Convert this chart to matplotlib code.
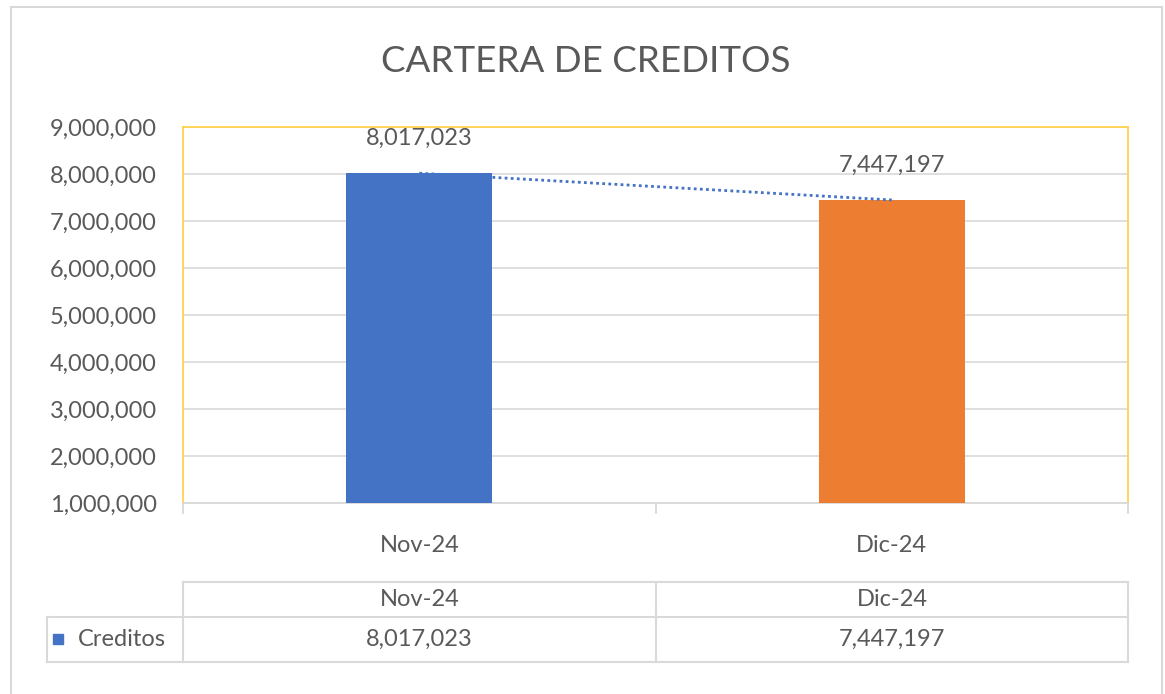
import matplotlib.pyplot as plt
from matplotlib.patches import Rectangle
from matplotlib.lines import Line2D
from matplotlib.ticker import FuncFormatter, MultipleLocator

# data
categories = ["Nov-24", "Dic-24"]
creditos = [8017023, 7447197]
series_name = "Creditos"
bar_colors = ["#4472C4", "#ED7D31"]
title = "CARTERA DE CREDITOS"

W, H = 1165, 694
txt = "#595959"
grid = "#D9D9D9"
fs = 17
plt.rcParams["font.family"] = ["Lato", "DejaVu Sans"]

fig = plt.figure(figsize=(W / 100, H / 100), dpi=100)


def fx(px):
    return px / W


def fy(py):
    return 1 - py / H


# outer chart border
fig.patches.append(Rectangle((fx(11), fy(720)), fx(1162) - fx(11), fy(7) - fy(720),
                             transform=fig.transFigure, fill=False,
                             edgecolor="#D9D9D9", lw=1.5))

ax = fig.add_axes([fx(183), fy(503), fx(1128) - fx(183), fy(127) - fy(503)])
x = list(range(len(categories)))
ax.bar(x, creditos, width=0.31, color=bar_colors, zorder=3)

# linear trendline (two points)
ax.plot(x, creditos, linestyle=(0, (1, 1.2)), color="#4472C4", lw=2.0, zorder=4)

for xi, v in zip(x, creditos):
    ax.annotate(f"{v:,}", (xi, v), xytext=(0, 25), textcoords="offset points",
                ha="center", va="center", fontsize=fs, color=txt)

ax.set_xlim(-0.5, len(categories) - 0.5)
ax.set_ylim(1000000, 9000000)
ax.yaxis.set_major_locator(MultipleLocator(1000000))
ax.yaxis.set_major_formatter(FuncFormatter(lambda v, p: f"{int(v):,}"))
ax.grid(axis="y", color=grid, lw=1.2, zorder=0)
ax.set_axisbelow(True)

for s in ["top", "left", "right"]:
    ax.spines[s].set_color("#FFD24D")
    ax.spines[s].set_linewidth(1.3)
ax.spines["bottom"].set_color(grid)
ax.spines["bottom"].set_linewidth(1.3)

ax.set_xticks(x)
ax.set_xticklabels(categories)
ax.set_xticks([i - 0.5 for i in range(len(categories) + 1)], minor=True)
ax.tick_params(axis="x", which="major", length=0, pad=23, labelsize=fs, labelcolor=txt)
ax.tick_params(axis="x", which="minor", length=8, color=grid, width=1.3)
ax.tick_params(axis="y", length=0, pad=19, labelsize=fs, labelcolor=txt)

fig.text(fx(586), fy(62), title, ha="center", va="center", fontsize=26.5, color=txt)

# data table
cols = [183, 656, 1128]
rows = [582, 617, 662]
lab_left = 47
lc = "#D9D9D9"


def hline(y, x0, x1):
    fig.add_artist(Line2D([fx(x0), fx(x1)], [fy(y), fy(y)], transform=fig.transFigure,
                          color=lc, lw=1.5))


def vline(xp, y0, y1):
    fig.add_artist(Line2D([fx(xp), fx(xp)], [fy(y0), fy(y1)], transform=fig.transFigure,
                          color=lc, lw=1.5))


hline(rows[0], cols[0], cols[-1])
hline(rows[1], lab_left, cols[-1])
hline(rows[2], lab_left, cols[-1])
for c in cols:
    vline(c, rows[0], rows[2])
vline(lab_left, rows[1], rows[2])

for i, (cat, v) in enumerate(zip(categories, creditos)):
    cx = (cols[i] + cols[i + 1]) / 2
    fig.text(fx(cx), fy((rows[0] + rows[1]) / 2), cat, ha="center", va="center",
             fontsize=fs, color=txt)
    fig.text(fx(cx), fy((rows[1] + rows[2]) / 2), f"{v:,}", ha="center", va="center",
             fontsize=fs, color=txt)

fig.patches.append(Rectangle((fx(53), fy(644)), fx(10) - fx(0), fy(0) - fy(10),
                             transform=fig.transFigure, color=bar_colors[0]))
fig.text(fx(78), fy(639), series_name, ha="left", va="center", fontsize=fs, color=txt)

fig.savefig("out.png", dpi=100)
